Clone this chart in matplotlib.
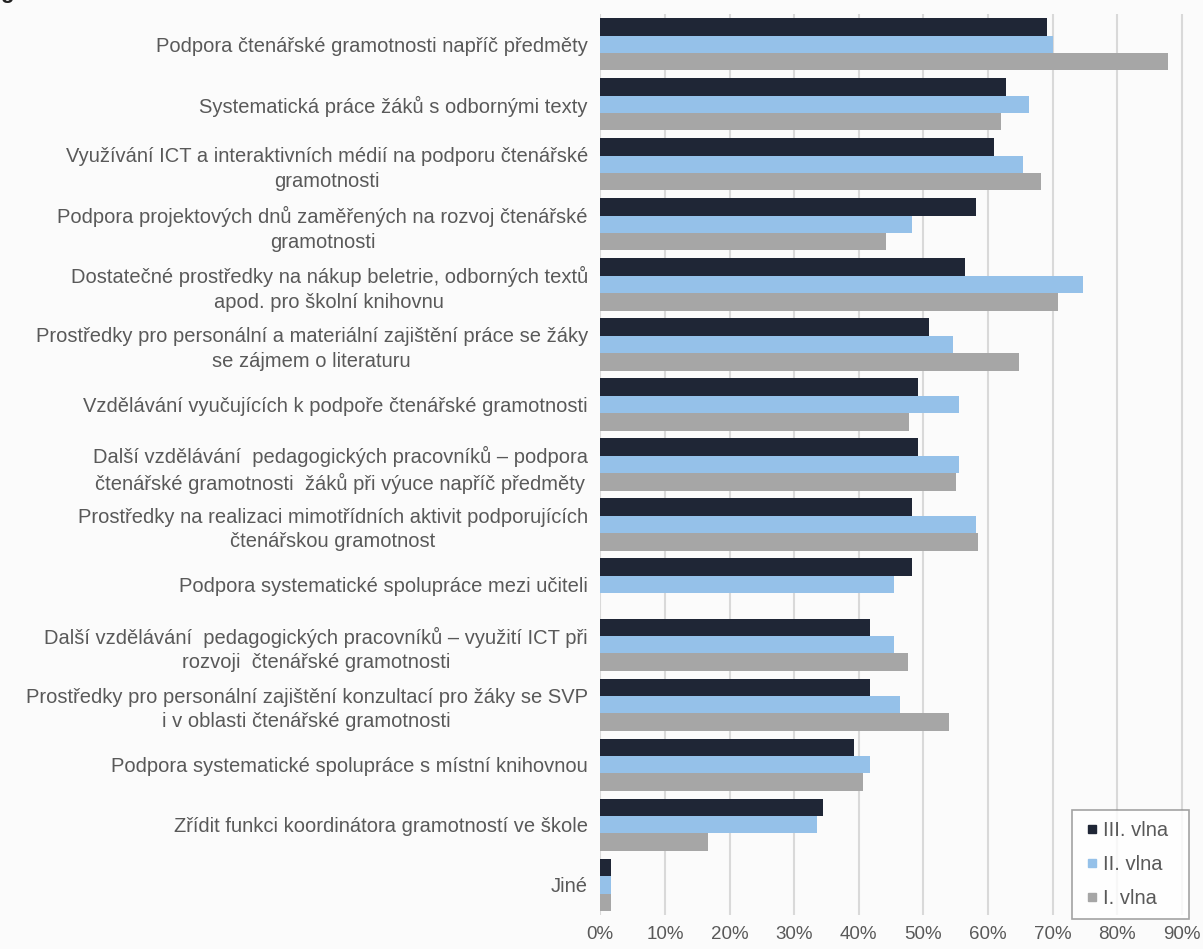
import numpy as np
import matplotlib.pyplot as plt
from matplotlib.lines import Line2D
from matplotlib.ticker import PercentFormatter

plt.rcParams['font.family'] = ['Liberation Sans', 'DejaVu Sans']

categories = [
    "Podpora čtenářské gramotnosti napříč předměty",
    "Systematická práce žáků s odbornými texty",
    "Využívání ICT a interaktivních médií na podporu čtenářské\ngramotnosti",
    "Podpora projektových dnů zaměřených na rozvoj čtenářské\ngramotnosti",
    "Dostatečné prostředky na nákup beletrie, odborných textů\napod. pro školní knihovnu",
    "Prostředky pro personální a materiální zajištění práce se žáky\nse zájmem o literaturu",
    "Vzdělávání vyučujících k podpoře čtenářské gramotnosti",
    "Další vzdělávání  pedagogických pracovníků – podpora\nčtenářské gramotnosti  žáků při výuce napříč předměty",
    "Prostředky na realizaci mimotřídních aktivit podporujících\nčtenářskou gramotnost",
    "Podpora systematické spolupráce mezi učiteli",
    "Další vzdělávání  pedagogických pracovníků – využití ICT při\nrozvoji  čtenářské gramotnosti",
    "Prostředky pro personální zajištění konzultací pro žáky se SVP\ni v oblasti čtenářské gramotnosti",
    "Podpora systematické spolupráce s místní knihovnou",
    "Zřídit funkci koordinátora gramotností ve škole",
    "Jiné",
]

vlna3 = [69.1, 62.8, 60.9, 58.2, 56.5, 50.9, 49.1, 49.1, 48.2, 48.2, 41.8, 41.8, 39.2, 34.5, 1.6]
vlna2 = [70.0, 66.3, 65.4, 48.2, 74.7, 54.6, 55.5, 55.5, 58.2, 45.4, 45.4, 46.3, 41.8, 33.5, 1.6]
vlna1 = [87.9, 62.0, 68.2, 44.2, 70.8, 64.8, 47.7, 55.0, 58.4, 0.0, 47.6, 54.0, 40.7, 16.7, 1.6]

series = [("III. vlna", vlna3, "#1f2636"),
          ("II. vlna", vlna2, "#95c1e9"),
          ("I. vlna", vlna1, "#a6a6a6")]

text_color = "#595959"

fig = plt.figure(figsize=(12.03, 9.49), dpi=100, facecolor="#fbfbfb")
ax = fig.add_axes([0.499, 0.036, 0.497, 0.949])
ax.set_facecolor("#fbfbfb")

y = np.arange(len(categories))
h = 0.29
for i, (name, vals, col) in enumerate(series):
    ax.barh(y + (i - 1) * h, vals, height=h, color=col, label=name, zorder=3)

ax.set_ylim(len(categories) - 0.5, -0.5)
ax.set_xlim(0, 92.5)
ax.set_xticks(np.arange(0, 91, 10))
ax.xaxis.set_major_formatter(PercentFormatter(decimals=0))
ax.grid(axis="x", color="#d9d9d9", linewidth=1.5, zorder=0)
ax.set_yticks(y)
ax.set_yticklabels(categories, multialignment="center", linespacing=1.35)
ax.tick_params(axis="y", length=0, colors=text_color, labelsize=14.5, pad=9)
ax.tick_params(axis="x", length=0, colors=text_color, labelsize=13.5, pad=8)
for s in ax.spines.values():
    s.set_visible(False)

handles = [Line2D([], [], marker="s", linestyle="none", markersize=6,
                  color=col, label=name) for name, _, col in series]
leg = fig.legend(handles=handles, loc="upper left", mode="expand",
                 bbox_to_anchor=(0.891, 0.03, 0.097, 0.1165),
                 frameon=True, fancybox=False, edgecolor="#8c8c8c", facecolor="white",
                 fontsize=14.5, labelspacing=0.75, handletextpad=0.1,
                 handlelength=0.9, borderpad=0.55, borderaxespad=0.0)
leg.get_frame().set_linewidth(1.2)
for t in leg.get_texts():
    t.set_color(text_color)

fig.text(0.0, 1.008, "g", fontsize=16, fontweight="bold", color="#222222",
         ha="left", va="center")

fig.savefig("out.png", dpi=100, facecolor=fig.get_facecolor())
